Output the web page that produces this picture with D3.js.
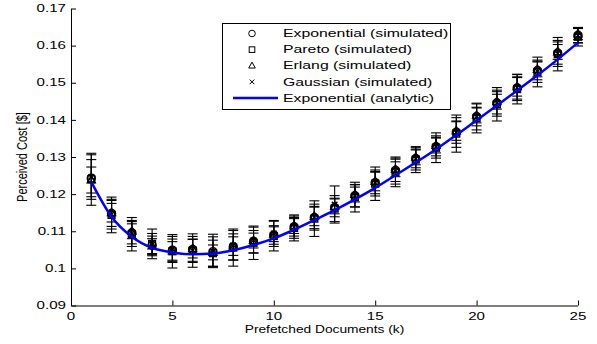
<!DOCTYPE html>
<html>
<head>
<meta charset="utf-8">
<script src="https://cdn.jsdelivr.net/npm/d3@7"></script>
<style>
    body { margin: 0; background: #fff; }
    text { font-family: "Liberation Sans", Arial, Helvetica, sans-serif; fill: #000; }
</style>
</head>
<body>
<div id="chart"></div>
<script>
// prefetched documents k
const docs = [1, 2, 3, 4, 5, 6, 7, 8, 9, 10, 11, 12, 13, 14, 15, 16, 17, 18, 19, 20, 21, 22, 23, 24, 25];

// analytic curve (exponential)
const analytic = [0.1233, 0.1139, 0.1085, 0.1055, 0.1043, 0.1038, 0.1040, 0.1049, 0.1063, 0.1081, 0.1104, 0.1130,
    0.1157, 0.1186, 0.1217, 0.1251, 0.1285, 0.1321, 0.1359, 0.1399, 0.1439, 0.1479, 0.1520, 0.1563, 0.1608];

// simulated means
const expMean = [0.1243, 0.1148, 0.1096, 0.1062, 0.1049, 0.1051, 0.1045, 0.1058, 0.1072, 0.1090, 0.1112, 0.1137,
    0.1164, 0.1196, 0.1231, 0.1264, 0.1296, 0.1328, 0.1367, 0.1409, 0.1446, 0.1486, 0.1533, 0.1580, 0.1628];
const paretoMean = [0.1240, 0.1144, 0.1092, 0.1066, 0.1046, 0.1048, 0.1041, 0.1056, 0.1069, 0.1087, 0.1109, 0.1134,
    0.1161, 0.1192, 0.1228, 0.1260, 0.1293, 0.1325, 0.1363, 0.1405, 0.1442, 0.1483, 0.1529, 0.1577, 0.1624];
const erlangMean = [0.1238, 0.1150, 0.1100, 0.1060, 0.1047, 0.1053, 0.1043, 0.1060, 0.1075, 0.1092, 0.1114, 0.1140,
    0.1167, 0.1199, 0.1234, 0.1267, 0.1299, 0.1331, 0.1370, 0.1412, 0.1449, 0.1489, 0.1536, 0.1583, 0.1631];
const gaussMean = [0.1246, 0.1146, 0.1094, 0.1064, 0.1051, 0.1049, 0.1047, 0.1062, 0.1076, 0.1094, 0.1111, 0.1138,
    0.1172, 0.1195, 0.1230, 0.1262, 0.1295, 0.1327, 0.1366, 0.1408, 0.1445, 0.1487, 0.1531, 0.1579, 0.1627];

// error bar half widths
const expErr = [0.0050, 0.0035, 0.0030, 0.0025, 0.0030, 0.0035, 0.0040, 0.0035, 0.0030, 0.0025, 0.0025, 0.0030,
    0.0025, 0.0030, 0.0030, 0.0030, 0.0025, 0.0025, 0.0030, 0.0025, 0.0030, 0.0030, 0.0025, 0.0030, 0.0020];
const paretoErr = [0.0070, 0.0048, 0.0045, 0.0040, 0.0045, 0.0045, 0.0035, 0.0050, 0.0045, 0.0040, 0.0035, 0.0048,
    0.0035, 0.0040, 0.0045, 0.0040, 0.0035, 0.0040, 0.0050, 0.0040, 0.0045, 0.0040, 0.0040, 0.0045, 0.0025];
const erlangErr = [0.0035, 0.0025, 0.0020, 0.0020, 0.0025, 0.0025, 0.0020, 0.0025, 0.0020, 0.0020, 0.0020, 0.0025,
    0.0020, 0.0020, 0.0025, 0.0020, 0.0020, 0.0020, 0.0025, 0.0020, 0.0020, 0.0025, 0.0020, 0.0020, 0.0015];
const gaussErr = [0.0060, 0.0040, 0.0035, 0.0030, 0.0035, 0.0030, 0.0045, 0.0040, 0.0035, 0.0035, 0.0030, 0.0035,
    0.0050, 0.0030, 0.0035, 0.0035, 0.0030, 0.0030, 0.0040, 0.0035, 0.0035, 0.0035, 0.0030, 0.0035, 0.0020];

const xTicks = [0, 5, 10, 15, 20, 25];
const yTicks = [0.09, 0.1, 0.11, 0.12, 0.13, 0.14, 0.15, 0.16, 0.17];

const legendLabels = ["Exponential (simulated)", "Pareto (simulated)", "Erlang (simulated)",
    "Gaussian (simulated)", "Exponential (analytic)"];

const WIDTH = 597;
const HEIGHT = 344;
const margin = {top: 8.5, right: 19, bottom: 38.5, left: 71};
const width = WIDTH - margin.left - margin.right;
const height = HEIGHT - margin.top - margin.bottom;
const stretch = 1.4;   // picture is wider than its text

const svg = d3.select("#chart").append("svg")
    .attr("width", WIDTH)
    .attr("height", HEIGHT);

const g = svg.append("g")
    .attr("transform", "translate(" + margin.left + "," + margin.top + ")");

const x = d3.scaleLinear().domain([0, 25]).range([0, width]);
const y = d3.scaleLinear().domain([0.09, 0.17]).range([height, 0]);

function label(parent, px, py, str, size, sx, anchor, baseline) {
    return parent.append("text")
        .attr("transform", "translate(" + px + "," + py + ") scale(" + sx + ",1)")
        .attr("font-size", size)
        .attr("text-anchor", anchor)
        .attr("dominant-baseline", baseline)
        .text(str);
}

// axes, ticks point inward
const xAxis = d3.axisBottom(x).tickValues(xTicks).tickSize(-5).tickFormat("");
const yAxis = d3.axisLeft(y).tickValues(yTicks).tickSize(-5).tickFormat("");

g.append("g").attr("transform", "translate(0," + height + ")").call(xAxis)
    .call(a => a.select(".domain").attr("d", "M0.5,0.5H" + width));
g.append("g").call(yAxis)
    .call(a => a.select(".domain").attr("d", "M0.5,0.5V" + height));
g.selectAll(".tick line").attr("stroke", "#000");
g.selectAll(".domain").attr("stroke", "#000");

xTicks.forEach(function(t) {
    label(g, x(t), height + 11, t, 10.8, stretch, "middle", "central");
});
yTicks.forEach(function(t) {
    label(g, -5, y(t), d3.format("")(t), 10.8, stretch, "end", "central");
});

label(svg, margin.left + x(12.5), 329, "Prefetched Documents (k)", 11, 1.25, "middle", "central");
svg.append("text")
    .attr("transform", "translate(27,157) rotate(-90) scale(1," + stretch + ")")
    .attr("font-size", 11)
    .attr("text-anchor", "middle")
    .text("Perceived Cost [$]");

// error bars
const series = [
    {mean: expMean, err: expErr, shape: "circle"},
    {mean: paretoMean, err: paretoErr, shape: "square"},
    {mean: erlangMean, err: erlangErr, shape: "triangle"},
    {mean: gaussMean, err: gaussErr, shape: "cross"}
];
const capW = 5;

series.forEach(function(s) {
    const bars = g.append("g").selectAll("g")
        .data(docs.map((d, i) => ({k: d, m: s.mean[i], e: s.err[i]})))
        .join("g")
        .attr("stroke", "#000")
        .attr("stroke-width", 1.1);
    bars.append("line")
        .attr("x1", d => x(d.k)).attr("x2", d => x(d.k))
        .attr("y1", d => y(d.m - d.e)).attr("y2", d => y(d.m + d.e));
    bars.append("line")
        .attr("x1", d => x(d.k) - capW).attr("x2", d => x(d.k) + capW)
        .attr("y1", d => y(d.m - d.e)).attr("y2", d => y(d.m - d.e));
    bars.append("line")
        .attr("x1", d => x(d.k) - capW).attr("x2", d => x(d.k) + capW)
        .attr("y1", d => y(d.m + d.e)).attr("y2", d => y(d.m + d.e));
});

function marker(sel, shape, r) {
    if (shape === "circle") {
        sel.append("circle").attr("r", r);
    } else if (shape === "square") {
        sel.append("rect").attr("x", -r * 0.85).attr("y", -r * 0.85)
            .attr("width", r * 1.7).attr("height", r * 1.7);
    } else if (shape === "triangle") {
        sel.append("path").attr("d", "M0," + (-r * 1.1) + "L" + r + "," + (r * 0.7) + "L" + (-r) + "," + (r * 0.7) + "Z");
    } else {
        const c = r * 0.7;
        sel.append("path").attr("d", "M" + (-c) + "," + (-c) + "L" + c + "," + c + "M" + (-c) + "," + c + "L" + c + "," + (-c));
    }
}

series.forEach(function(s) {
    g.append("g").selectAll("g")
        .data(docs.map((d, i) => ({k: d, m: s.mean[i]})))
        .join("g")
        .attr("transform", d => "translate(" + x(d.k) + "," + y(d.m) + ")")
        .attr("fill", "none")
        .attr("stroke", "#000")
        .attr("stroke-width", 1.4)
        .each(function() { marker(d3.select(this), s.shape, 4); });
});

// analytic line
const line = d3.line()
    .x((d, i) => x(docs[i]))
    .y(d => y(d))
    .curve(d3.curveMonotoneX);

g.append("path")
    .datum(analytic)
    .attr("fill", "none")
    .attr("stroke", "#0000ff")
    .attr("stroke-width", 2.5)
    .attr("d", line);

// legend
const legend = svg.append("g");
legend.append("rect")
    .attr("x", 222.5).attr("y", 23.5)
    .attr("width", 228).attr("height", 86)
    .attr("fill", "#fff")
    .attr("stroke", "#000");

const rowY = d3.scaleLinear().domain([0, 4]).range([33.5, 98]);
legendLabels.forEach(function(txt, i) {
    const cy = rowY(i);
    if (i < 4) {
        const m = legend.append("g")
            .attr("transform", "translate(252," + cy + ")")
            .attr("fill", "none")
            .attr("stroke", "#000")
            .attr("stroke-width", 1);
        marker(m, series[i].shape, 3.3);
    } else {
        legend.append("line")
            .attr("x1", 233).attr("x2", 278)
            .attr("y1", cy).attr("y2", cy)
            .attr("stroke", "#0000ff")
            .attr("stroke-width", 2.5);
    }
    label(legend, 283, cy, txt, 11.3, stretch, "start", "central");
});
</script>
</body>
</html>
